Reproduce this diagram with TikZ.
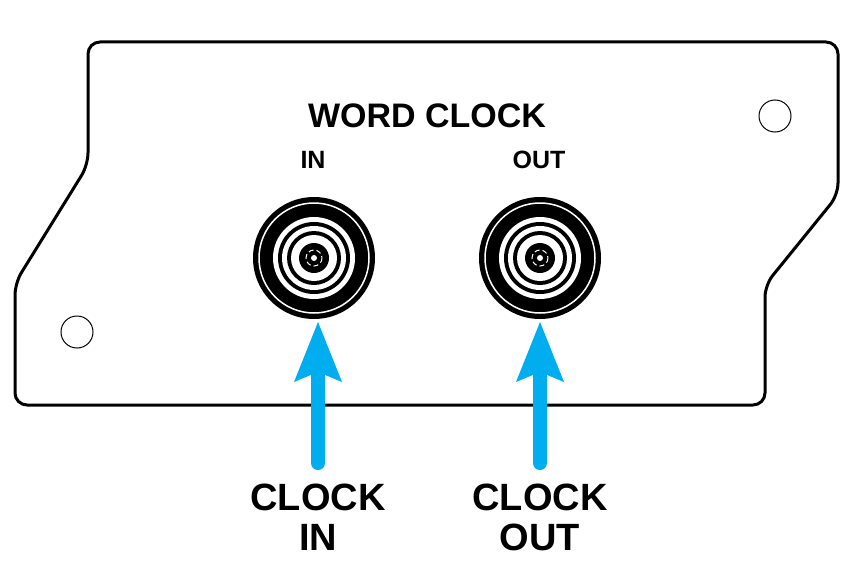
\documentclass[tikz,border=0pt]{standalone}
\usepackage{fontspec}
\setmainfont{Liberation Sans}
\begin{document}
\begin{tikzpicture}[x=1pt,y=-1pt,
  lbl/.style={font=\bfseries\fontsize{34}{40}\selectfont},
  small/.style={font=\bfseries\fontsize{25}{28}\selectfont},
  big/.style={font=\bfseries\fontsize{38}{40}\selectfont,align=center},
  hole/.style={draw,line width=1pt,circle,minimum size=32pt,inner sep=0pt},
  arr/.style={draw=cyanA,fill=cyanA}]
\definecolor{cyanA}{RGB}{0,174,239}
\useasboundingbox (0,0) rectangle (856,578);
\draw[line width=3pt,rounded corners=12pt,line join=round]
 (88,165) -- (88,42) -- (838,42) -- (838,195) -- (765,285) -- (765,405) -- (15,405) -- (15,283) -- cycle;
\node[hole] (h1) at (775,116) {};
\node[hole] (h2) at (77,332) {};
\node[lbl] (t) at (427,116) {WORD CLOCK};
\node[small] (in) at (313,160) {IN};
\node[small] (out) at (539,160) {OUT};
\foreach \n/\cx in {a/314,b/540}{
 \begin{scope}[shift={(\cx,258)}]
  \fill (0,0) circle (61);
  \draw[white,line width=1.5pt] (0,0) circle (55);
  \fill[white] (0,0) circle (41);
  \fill (0,0) circle (36);
  \fill[white] (0,0) circle (32);
  \fill (0,0) circle (27);
  \fill[white] (0,0) circle (23);
  \fill (0,0) circle (15);
  \draw[white,line width=1pt,dash pattern=on 5pt off 3pt] (0,0) circle (8);
  \fill[white] (0,0) circle (3);
 \end{scope}
 \coordinate (c\n) at (\cx,258);
}
\foreach \x in {318,540}{
 \draw[cyanA,line width=14pt,line cap=round] (\x,463) -- (\x,370);
 \fill[cyanA] (\x,322) -- (\x+24,382) -- (\x,372) -- (\x-24,382) -- cycle;
}
\node[big] (ci) at (318,517) {CLOCK\\IN};
\node[big] (co) at (540,517) {CLOCK\\OUT};
\end{tikzpicture}
\end{document}
